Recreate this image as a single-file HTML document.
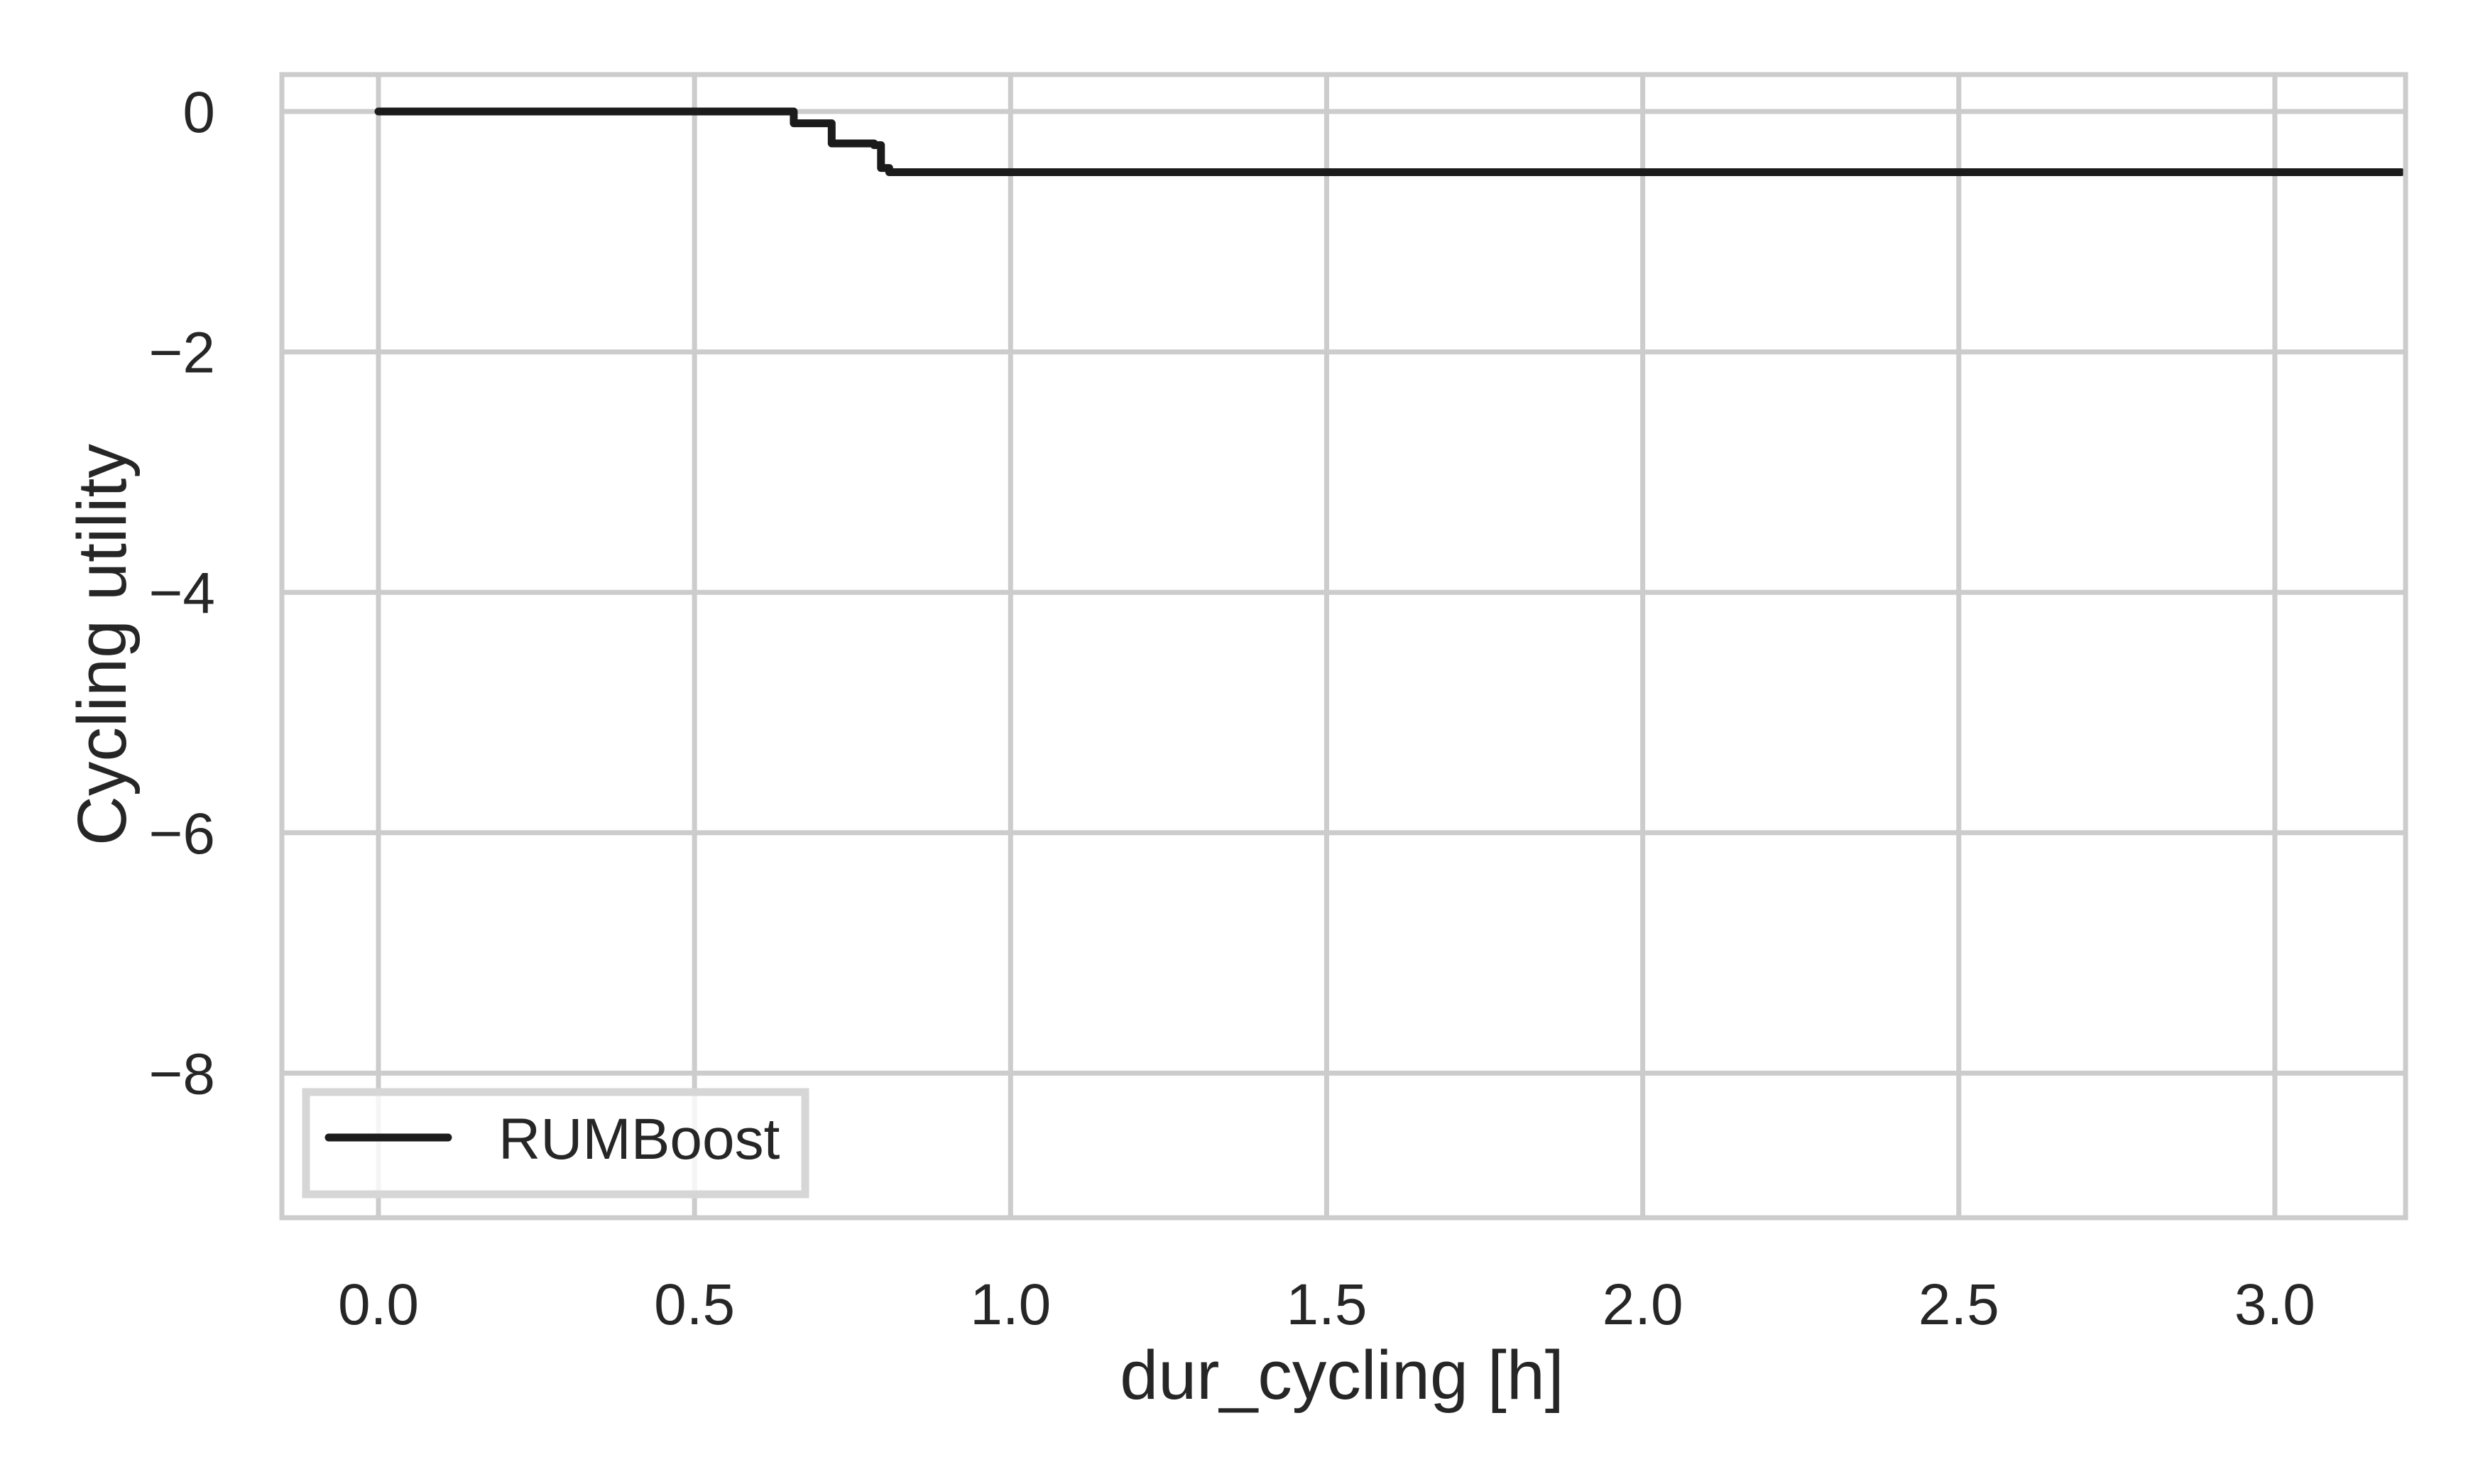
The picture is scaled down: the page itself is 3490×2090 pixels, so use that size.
<!DOCTYPE html>
<html><head><meta charset="utf-8"><style>
html,body{margin:0;padding:0;background:#fff;}
svg{display:block;font-family:"Liberation Sans",Arial,sans-serif;}
</style></head><body>
<svg id="chart" width="3490" height="2090" viewBox="0 0 3490 2090">
<rect x="0" y="0" width="3490" height="2090" fill="#fff"/>
<g id="grid"></g>
<g id="ticks"></g>
<g id="series"></g>
<rect x="397" y="105" width="2991" height="1610" fill="none" stroke="#cccccc" stroke-width="7"/>
<text x="1890" y="1970" font-size="97" fill="#262626" text-anchor="middle">dur_cycling [h]</text>
<text transform="translate(177,908) rotate(-90)" font-size="97" fill="#262626" text-anchor="middle">Cycling utility</text>
<g>
<rect x="431" y="1538" width="703" height="144" fill="#fff" fill-opacity="0.8" stroke="#d6d6d6" stroke-width="11"/>
<line x1="463" y1="1602" x2="631" y2="1602" stroke="#1b1b1b" stroke-width="11" stroke-linecap="round"/>
<text x="702" y="1632" font-size="82" fill="#262626">RUMBoost</text>
</g>
</svg>
<script>
const xTicks = [0.0, 0.5, 1.0, 1.5, 2.0, 2.5, 3.0];
const xTickLabels = ["0.0","0.5","1.0","1.5","2.0","2.5","3.0"];
const yTicks = [0, -2, -4, -6, -8];
const yTickLabels = ["0","\u22122","\u22124","\u22126","\u22128"];
const stepX = [0.0, 0.657, 0.717, 0.784, 0.795, 0.808, 3.2];
const stepY = [0.0, -0.098, -0.266, -0.28, -0.47, -0.505, -0.505];

const X0 = 533, XS = 890.3, Y0 = 157, YS = 169.3;
function sx(v){ return X0 + v * XS; }
function sy(v){ return Y0 - v * YS; }
const NS = "http://www.w3.org/2000/svg";
const grid = document.getElementById('grid');
const ticks = document.getElementById('ticks');
const series = document.getElementById('series');

xTicks.forEach((t, i) => {
  const l = document.createElementNS(NS, 'line');
  l.setAttribute('x1', sx(t)); l.setAttribute('x2', sx(t));
  l.setAttribute('y1', 105); l.setAttribute('y2', 1715);
  l.setAttribute('stroke', '#cccccc'); l.setAttribute('stroke-width', 7);
  
  
  grid.appendChild(l);
  const tx = document.createElementNS(NS, 'text');
  tx.setAttribute('x', sx(t)); tx.setAttribute('y', 1865);
  tx.setAttribute('font-size', 82); tx.setAttribute('fill', '#262626');
  tx.setAttribute('text-anchor', 'middle');
  tx.textContent = xTickLabels[i];
  
  
  ticks.appendChild(tx);
});
yTicks.forEach((t, i) => {
  const l = document.createElementNS(NS, 'line');
  l.setAttribute('x1', 397); l.setAttribute('x2', 3388);
  l.setAttribute('y1', sy(t)); l.setAttribute('y2', sy(t));
  l.setAttribute('stroke', '#cccccc'); l.setAttribute('stroke-width', 7);
  
  
  grid.appendChild(l);
  const tx = document.createElementNS(NS, 'text');
  tx.setAttribute('x', 303); tx.setAttribute('y', sy(t) + 29);
  tx.setAttribute('font-size', 82); tx.setAttribute('fill', '#262626');
  tx.setAttribute('text-anchor', 'end');
  tx.textContent = yTickLabels[i];
  
  
  ticks.appendChild(tx);
});
let d = '';
for (let i = 0; i < stepX.length; i++) {
  if (i === 0) d += 'M' + sx(stepX[0]) + ' ' + sy(stepY[0]);
  else d += ' H' + sx(stepX[i]) + ' V' + sy(stepY[i]);
}
const p = document.createElementNS(NS, 'path');
p.setAttribute('d', d);
p.setAttribute('fill', 'none'); p.setAttribute('stroke', '#1b1b1b');
p.setAttribute('stroke-width', 11); p.setAttribute('stroke-linecap', 'round');
p.setAttribute('stroke-linejoin', 'round');


series.appendChild(p);
</script>
</body></html>
